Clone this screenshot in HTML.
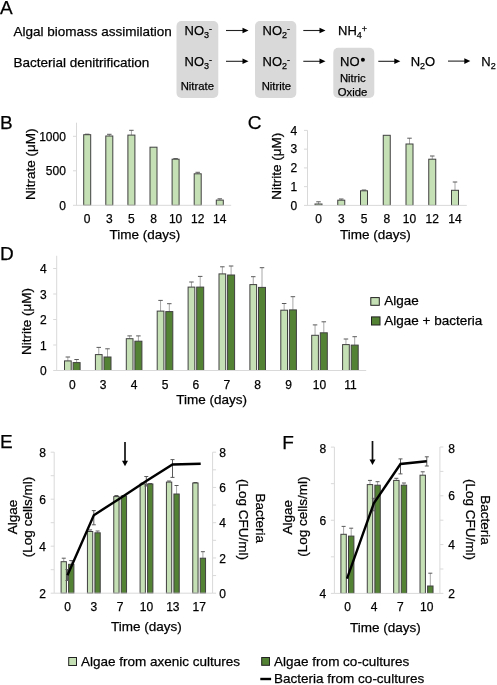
<!DOCTYPE html>
<html><head><meta charset="utf-8"><style>
html,body{margin:0;padding:0;background:#fff;}
body{width:497px;height:685px;overflow:hidden;}
svg{display:block;position:absolute;left:0;top:0;font-family:"Liberation Sans", sans-serif;fill:#000;}
#t{filter:grayscale(1);}
#t text{stroke:#000;stroke-width:0.25px;}
</style></head><body>
<svg width="497" height="685" viewBox="0 0 497 685">
<rect width="497" height="685" fill="#fff"/>
<rect x="176.5" y="21" width="41.8" height="77" fill="#D9D9D9" rx="5"/>
<rect x="255" y="21" width="41.3" height="77" fill="#D9D9D9" rx="5"/>
<rect x="333.3" y="47.8" width="41" height="50.2" fill="#D9D9D9" rx="5"/>
<circle cx="362.9" cy="59.8" r="2" fill="#000"/>
<line x1="226" y1="30.5" x2="243.5" y2="30.5" stroke="#222" stroke-width="1.1" />
<path d="M248.5 30.5 L242.5 27.7 L242.5 33.3 Z" fill="#000"/>
<line x1="226" y1="61.3" x2="243.5" y2="61.3" stroke="#222" stroke-width="1.1" />
<path d="M248.5 61.3 L242.5 58.5 L242.5 64.1 Z" fill="#000"/>
<line x1="303.3" y1="30.5" x2="320.5" y2="30.5" stroke="#222" stroke-width="1.1" />
<path d="M325.5 30.5 L319.5 27.7 L319.5 33.3 Z" fill="#000"/>
<line x1="303.3" y1="61.3" x2="320.5" y2="61.3" stroke="#222" stroke-width="1.1" />
<path d="M325.5 61.3 L319.5 58.5 L319.5 64.1 Z" fill="#000"/>
<line x1="378.3" y1="61.3" x2="395.3" y2="61.3" stroke="#222" stroke-width="1.1" />
<path d="M400.3 61.3 L394.3 58.5 L394.3 64.1 Z" fill="#000"/>
<line x1="448" y1="61.1" x2="465.3" y2="61.1" stroke="#222" stroke-width="1.1" />
<path d="M470.3 61.1 L464.3 58.300000000000004 L464.3 63.9 Z" fill="#000"/>
<line x1="76.5" y1="122.7" x2="76.5" y2="205.3" stroke="#D9D9D9" stroke-width="1" />
<line x1="73.0" y1="170.8" x2="76.5" y2="170.8" stroke="#D9D9D9" stroke-width="1" />
<line x1="73.0" y1="136.3" x2="76.5" y2="136.3" stroke="#D9D9D9" stroke-width="1" />
<line x1="87.2" y1="134.7" x2="87.2" y2="134.2" stroke="#A8A8A8" stroke-width="1" />
<line x1="84.95" y1="134.2" x2="89.45" y2="134.2" stroke="#5A5A5A" stroke-width="1" />
<rect x="83.7" y="134.7" width="7" height="70.60000000000002" fill="#C5E0B4" stroke="#404040" stroke-width="1"/>
<line x1="109.30000000000001" y1="136.0" x2="109.30000000000001" y2="134.3" stroke="#A8A8A8" stroke-width="1" />
<line x1="107.05000000000001" y1="134.3" x2="111.55000000000001" y2="134.3" stroke="#5A5A5A" stroke-width="1" />
<rect x="105.80000000000001" y="136.0" width="7" height="69.30000000000001" fill="#C5E0B4" stroke="#404040" stroke-width="1"/>
<line x1="131.4" y1="135.1" x2="131.4" y2="130.3" stroke="#A8A8A8" stroke-width="1" />
<line x1="129.15" y1="130.3" x2="133.65" y2="130.3" stroke="#5A5A5A" stroke-width="1" />
<rect x="127.9" y="135.1" width="7" height="70.20000000000002" fill="#C5E0B4" stroke="#404040" stroke-width="1"/>
<rect x="150.0" y="147.2" width="7" height="58.10000000000002" fill="#C5E0B4" stroke="#404040" stroke-width="1"/>
<line x1="175.60000000000002" y1="159.2" x2="175.60000000000002" y2="158.6" stroke="#A8A8A8" stroke-width="1" />
<line x1="173.35000000000002" y1="158.6" x2="177.85000000000002" y2="158.6" stroke="#5A5A5A" stroke-width="1" />
<rect x="172.10000000000002" y="159.2" width="7" height="46.10000000000002" fill="#C5E0B4" stroke="#404040" stroke-width="1"/>
<line x1="197.7" y1="173.8" x2="197.7" y2="172.3" stroke="#A8A8A8" stroke-width="1" />
<line x1="195.45" y1="172.3" x2="199.95" y2="172.3" stroke="#5A5A5A" stroke-width="1" />
<rect x="194.2" y="173.8" width="7" height="31.5" fill="#C5E0B4" stroke="#404040" stroke-width="1"/>
<line x1="219.8" y1="200.1" x2="219.8" y2="198.8" stroke="#A8A8A8" stroke-width="1" />
<line x1="217.55" y1="198.8" x2="222.05" y2="198.8" stroke="#5A5A5A" stroke-width="1" />
<rect x="216.3" y="200.1" width="7" height="5.200000000000017" fill="#C5E0B4" stroke="#404040" stroke-width="1"/>
<line x1="307.5" y1="130.4" x2="307.5" y2="205.4" stroke="#D9D9D9" stroke-width="1" />
<line x1="304.0" y1="186.65" x2="307.5" y2="186.65" stroke="#D9D9D9" stroke-width="1" />
<line x1="304.0" y1="167.9" x2="307.5" y2="167.9" stroke="#D9D9D9" stroke-width="1" />
<line x1="304.0" y1="149.15" x2="307.5" y2="149.15" stroke="#D9D9D9" stroke-width="1" />
<line x1="304.0" y1="130.4" x2="307.5" y2="130.4" stroke="#D9D9D9" stroke-width="1" />
<line x1="318.5" y1="204.0" x2="318.5" y2="201.8" stroke="#A8A8A8" stroke-width="1" />
<line x1="316.25" y1="201.8" x2="320.75" y2="201.8" stroke="#5A5A5A" stroke-width="1" />
<rect x="315.0" y="204.0" width="7" height="1.4000000000000057" fill="#C5E0B4" stroke="#404040" stroke-width="1"/>
<line x1="341.25" y1="200.2" x2="341.25" y2="199.0" stroke="#A8A8A8" stroke-width="1" />
<line x1="339.0" y1="199.0" x2="343.5" y2="199.0" stroke="#5A5A5A" stroke-width="1" />
<rect x="337.75" y="200.2" width="7" height="5.200000000000017" fill="#C5E0B4" stroke="#404040" stroke-width="1"/>
<line x1="364.0" y1="190.8" x2="364.0" y2="190.0" stroke="#A8A8A8" stroke-width="1" />
<line x1="361.75" y1="190.0" x2="366.25" y2="190.0" stroke="#5A5A5A" stroke-width="1" />
<rect x="360.5" y="190.8" width="7" height="14.599999999999994" fill="#C5E0B4" stroke="#404040" stroke-width="1"/>
<rect x="383.25" y="135.3" width="7" height="70.1" fill="#C5E0B4" stroke="#404040" stroke-width="1"/>
<line x1="409.5" y1="144.0" x2="409.5" y2="138.2" stroke="#A8A8A8" stroke-width="1" />
<line x1="407.25" y1="138.2" x2="411.75" y2="138.2" stroke="#5A5A5A" stroke-width="1" />
<rect x="406.0" y="144.0" width="7" height="61.400000000000006" fill="#C5E0B4" stroke="#404040" stroke-width="1"/>
<line x1="432.25" y1="159.2" x2="432.25" y2="156.0" stroke="#A8A8A8" stroke-width="1" />
<line x1="430.0" y1="156.0" x2="434.5" y2="156.0" stroke="#5A5A5A" stroke-width="1" />
<rect x="428.75" y="159.2" width="7" height="46.20000000000002" fill="#C5E0B4" stroke="#404040" stroke-width="1"/>
<line x1="455.0" y1="190.3" x2="455.0" y2="182.0" stroke="#A8A8A8" stroke-width="1" />
<line x1="452.75" y1="182.0" x2="457.25" y2="182.0" stroke="#5A5A5A" stroke-width="1" />
<rect x="451.5" y="190.3" width="7" height="15.099999999999994" fill="#C5E0B4" stroke="#404040" stroke-width="1"/>
<line x1="56.7" y1="255.75" x2="56.7" y2="370.5" stroke="#D9D9D9" stroke-width="1" />
<line x1="53.2" y1="345.0" x2="56.7" y2="345.0" stroke="#D9D9D9" stroke-width="1" />
<line x1="53.2" y1="319.5" x2="56.7" y2="319.5" stroke="#D9D9D9" stroke-width="1" />
<line x1="53.2" y1="294.0" x2="56.7" y2="294.0" stroke="#D9D9D9" stroke-width="1" />
<line x1="53.2" y1="268.5" x2="56.7" y2="268.5" stroke="#D9D9D9" stroke-width="1" />
<line x1="67.85" y1="360.9" x2="67.85" y2="357.0" stroke="#A8A8A8" stroke-width="1" />
<line x1="65.6" y1="357.0" x2="70.1" y2="357.0" stroke="#5A5A5A" stroke-width="1" />
<rect x="64.5" y="360.9" width="6.7" height="9.600000000000023" fill="#C5E0B4" stroke="#404040" stroke-width="1"/>
<line x1="76.6" y1="362.6" x2="76.6" y2="359.5" stroke="#A8A8A8" stroke-width="1" />
<line x1="74.35" y1="359.5" x2="78.85" y2="359.5" stroke="#5A5A5A" stroke-width="1" />
<rect x="73.1" y="362.6" width="7.0" height="7.899999999999977" fill="#548235" stroke="#404040" stroke-width="1"/>
<line x1="98.75" y1="354.6" x2="98.75" y2="347.4" stroke="#A8A8A8" stroke-width="1" />
<line x1="96.5" y1="347.4" x2="101.0" y2="347.4" stroke="#5A5A5A" stroke-width="1" />
<rect x="95.4" y="354.6" width="6.7" height="15.899999999999977" fill="#C5E0B4" stroke="#404040" stroke-width="1"/>
<line x1="107.5" y1="357.0" x2="107.5" y2="348.8" stroke="#A8A8A8" stroke-width="1" />
<line x1="105.25" y1="348.8" x2="109.75" y2="348.8" stroke="#5A5A5A" stroke-width="1" />
<rect x="104.0" y="357.0" width="7.0" height="13.5" fill="#548235" stroke="#404040" stroke-width="1"/>
<line x1="129.65" y1="338.7" x2="129.65" y2="335.9" stroke="#A8A8A8" stroke-width="1" />
<line x1="127.4" y1="335.9" x2="131.9" y2="335.9" stroke="#5A5A5A" stroke-width="1" />
<rect x="126.3" y="338.7" width="6.7" height="31.80000000000001" fill="#C5E0B4" stroke="#404040" stroke-width="1"/>
<line x1="138.4" y1="341.2" x2="138.4" y2="335.9" stroke="#A8A8A8" stroke-width="1" />
<line x1="136.15" y1="335.9" x2="140.65" y2="335.9" stroke="#5A5A5A" stroke-width="1" />
<rect x="134.9" y="341.2" width="7.0" height="29.30000000000001" fill="#548235" stroke="#404040" stroke-width="1"/>
<line x1="160.54999999999998" y1="311.1" x2="160.54999999999998" y2="300.4" stroke="#A8A8A8" stroke-width="1" />
<line x1="158.29999999999998" y1="300.4" x2="162.79999999999998" y2="300.4" stroke="#5A5A5A" stroke-width="1" />
<rect x="157.2" y="311.1" width="6.7" height="59.39999999999998" fill="#C5E0B4" stroke="#404040" stroke-width="1"/>
<line x1="169.29999999999998" y1="311.6" x2="169.29999999999998" y2="303.7" stroke="#A8A8A8" stroke-width="1" />
<line x1="167.04999999999998" y1="303.7" x2="171.54999999999998" y2="303.7" stroke="#5A5A5A" stroke-width="1" />
<rect x="165.79999999999998" y="311.6" width="7.0" height="58.89999999999998" fill="#548235" stroke="#404040" stroke-width="1"/>
<line x1="191.45" y1="287.1" x2="191.45" y2="282.0" stroke="#A8A8A8" stroke-width="1" />
<line x1="189.2" y1="282.0" x2="193.7" y2="282.0" stroke="#5A5A5A" stroke-width="1" />
<rect x="188.1" y="287.1" width="6.7" height="83.39999999999998" fill="#C5E0B4" stroke="#404040" stroke-width="1"/>
<line x1="200.2" y1="287.1" x2="200.2" y2="276.4" stroke="#A8A8A8" stroke-width="1" />
<line x1="197.95" y1="276.4" x2="202.45" y2="276.4" stroke="#5A5A5A" stroke-width="1" />
<rect x="196.7" y="287.1" width="7.0" height="83.39999999999998" fill="#548235" stroke="#404040" stroke-width="1"/>
<line x1="222.35" y1="273.9" x2="222.35" y2="266.8" stroke="#A8A8A8" stroke-width="1" />
<line x1="220.1" y1="266.8" x2="224.6" y2="266.8" stroke="#5A5A5A" stroke-width="1" />
<rect x="219.0" y="273.9" width="6.7" height="96.60000000000002" fill="#C5E0B4" stroke="#404040" stroke-width="1"/>
<line x1="231.1" y1="275.0" x2="231.1" y2="266.0" stroke="#A8A8A8" stroke-width="1" />
<line x1="228.85" y1="266.0" x2="233.35" y2="266.0" stroke="#5A5A5A" stroke-width="1" />
<rect x="227.6" y="275.0" width="7.0" height="95.5" fill="#548235" stroke="#404040" stroke-width="1"/>
<line x1="253.24999999999997" y1="284.6" x2="253.24999999999997" y2="276.7" stroke="#A8A8A8" stroke-width="1" />
<line x1="250.99999999999997" y1="276.7" x2="255.49999999999997" y2="276.7" stroke="#5A5A5A" stroke-width="1" />
<rect x="249.89999999999998" y="284.6" width="6.7" height="85.89999999999998" fill="#C5E0B4" stroke="#404040" stroke-width="1"/>
<line x1="262.0" y1="287.4" x2="262.0" y2="267.7" stroke="#A8A8A8" stroke-width="1" />
<line x1="259.75" y1="267.7" x2="264.25" y2="267.7" stroke="#5A5A5A" stroke-width="1" />
<rect x="258.5" y="287.4" width="7.0" height="83.10000000000002" fill="#548235" stroke="#404040" stroke-width="1"/>
<line x1="284.15" y1="310.2" x2="284.15" y2="303.5" stroke="#A8A8A8" stroke-width="1" />
<line x1="281.9" y1="303.5" x2="286.4" y2="303.5" stroke="#5A5A5A" stroke-width="1" />
<rect x="280.79999999999995" y="310.2" width="6.7" height="60.30000000000001" fill="#C5E0B4" stroke="#404040" stroke-width="1"/>
<line x1="292.9" y1="309.9" x2="292.9" y2="296.7" stroke="#A8A8A8" stroke-width="1" />
<line x1="290.65" y1="296.7" x2="295.15" y2="296.7" stroke="#5A5A5A" stroke-width="1" />
<rect x="289.4" y="309.9" width="7.0" height="60.60000000000002" fill="#548235" stroke="#404040" stroke-width="1"/>
<line x1="315.05" y1="335.3" x2="315.05" y2="324.9" stroke="#A8A8A8" stroke-width="1" />
<line x1="312.8" y1="324.9" x2="317.3" y2="324.9" stroke="#5A5A5A" stroke-width="1" />
<rect x="311.7" y="335.3" width="6.7" height="35.19999999999999" fill="#C5E0B4" stroke="#404040" stroke-width="1"/>
<line x1="323.8" y1="332.8" x2="323.8" y2="321.8" stroke="#A8A8A8" stroke-width="1" />
<line x1="321.55" y1="321.8" x2="326.05" y2="321.8" stroke="#5A5A5A" stroke-width="1" />
<rect x="320.3" y="332.8" width="7.0" height="37.69999999999999" fill="#548235" stroke="#404040" stroke-width="1"/>
<line x1="345.95" y1="344.6" x2="345.95" y2="339.0" stroke="#A8A8A8" stroke-width="1" />
<line x1="343.7" y1="339.0" x2="348.2" y2="339.0" stroke="#5A5A5A" stroke-width="1" />
<rect x="342.59999999999997" y="344.6" width="6.7" height="25.899999999999977" fill="#C5E0B4" stroke="#404040" stroke-width="1"/>
<line x1="354.7" y1="345.1" x2="354.7" y2="336.7" stroke="#A8A8A8" stroke-width="1" />
<line x1="352.45" y1="336.7" x2="356.95" y2="336.7" stroke="#5A5A5A" stroke-width="1" />
<rect x="351.2" y="345.1" width="7.0" height="25.399999999999977" fill="#548235" stroke="#404040" stroke-width="1"/>
<rect x="370.8" y="297.6" width="8.5" height="7.7" fill="#C5E0B4" stroke="#222" stroke-width="1"/>
<rect x="371.5" y="316.9" width="8.5" height="8.1" fill="#548235" stroke="#222" stroke-width="1"/>
<line x1="54.2" y1="452.2" x2="54.2" y2="593.2" stroke="#D9D9D9" stroke-width="1" />
<line x1="212.6" y1="452.2" x2="212.6" y2="593.2" stroke="#D9D9D9" stroke-width="1" />
<line x1="50.7" y1="593.2" x2="54.2" y2="593.2" stroke="#D9D9D9" stroke-width="1" />
<line x1="50.7" y1="569.7" x2="54.2" y2="569.7" stroke="#D9D9D9" stroke-width="1" />
<line x1="50.7" y1="546.2" x2="54.2" y2="546.2" stroke="#D9D9D9" stroke-width="1" />
<line x1="50.7" y1="522.7" x2="54.2" y2="522.7" stroke="#D9D9D9" stroke-width="1" />
<line x1="50.7" y1="499.2" x2="54.2" y2="499.2" stroke="#D9D9D9" stroke-width="1" />
<line x1="50.7" y1="475.7" x2="54.2" y2="475.7" stroke="#D9D9D9" stroke-width="1" />
<line x1="50.7" y1="452.2" x2="54.2" y2="452.2" stroke="#D9D9D9" stroke-width="1" />
<line x1="212.6" y1="593.2" x2="216.1" y2="593.2" stroke="#D9D9D9" stroke-width="1" />
<line x1="212.6" y1="575.575" x2="216.1" y2="575.575" stroke="#D9D9D9" stroke-width="1" />
<line x1="212.6" y1="557.95" x2="216.1" y2="557.95" stroke="#D9D9D9" stroke-width="1" />
<line x1="212.6" y1="540.325" x2="216.1" y2="540.325" stroke="#D9D9D9" stroke-width="1" />
<line x1="212.6" y1="522.7" x2="216.1" y2="522.7" stroke="#D9D9D9" stroke-width="1" />
<line x1="212.6" y1="505.07500000000005" x2="216.1" y2="505.07500000000005" stroke="#D9D9D9" stroke-width="1" />
<line x1="212.6" y1="487.45" x2="216.1" y2="487.45" stroke="#D9D9D9" stroke-width="1" />
<line x1="212.6" y1="469.825" x2="216.1" y2="469.825" stroke="#D9D9D9" stroke-width="1" />
<line x1="212.6" y1="452.2" x2="216.1" y2="452.2" stroke="#D9D9D9" stroke-width="1" />
<line x1="63.75" y1="561.7" x2="63.75" y2="558.2" stroke="#A8A8A8" stroke-width="1" />
<line x1="61.75" y1="558.2" x2="65.75" y2="558.2" stroke="#5A5A5A" stroke-width="1" />
<rect x="61.1" y="561.7" width="5.3" height="31.5" fill="#C5E0B4" stroke="#404040" stroke-width="1"/>
<line x1="71.25" y1="564.3" x2="71.25" y2="560.6" stroke="#A8A8A8" stroke-width="1" />
<line x1="69.25" y1="560.6" x2="73.25" y2="560.6" stroke="#5A5A5A" stroke-width="1" />
<rect x="68.6" y="564.3" width="5.3" height="28.90000000000009" fill="#548235" stroke="#404040" stroke-width="1"/>
<line x1="90.08000000000001" y1="531.5" x2="90.08000000000001" y2="529.9" stroke="#A8A8A8" stroke-width="1" />
<line x1="88.08000000000001" y1="529.9" x2="92.08000000000001" y2="529.9" stroke="#5A5A5A" stroke-width="1" />
<rect x="87.43" y="531.5" width="5.3" height="61.700000000000045" fill="#C5E0B4" stroke="#404040" stroke-width="1"/>
<line x1="97.58000000000001" y1="532.8" x2="97.58000000000001" y2="531.0" stroke="#A8A8A8" stroke-width="1" />
<line x1="95.58000000000001" y1="531.0" x2="99.58000000000001" y2="531.0" stroke="#5A5A5A" stroke-width="1" />
<rect x="94.93" y="532.8" width="5.3" height="60.40000000000009" fill="#548235" stroke="#404040" stroke-width="1"/>
<line x1="116.41" y1="496.6" x2="116.41" y2="495.5" stroke="#A8A8A8" stroke-width="1" />
<line x1="114.41" y1="495.5" x2="118.41" y2="495.5" stroke="#5A5A5A" stroke-width="1" />
<rect x="113.75999999999999" y="496.6" width="5.3" height="96.60000000000002" fill="#C5E0B4" stroke="#404040" stroke-width="1"/>
<line x1="123.91" y1="496.0" x2="123.91" y2="495.5" stroke="#A8A8A8" stroke-width="1" />
<line x1="121.91" y1="495.5" x2="125.91" y2="495.5" stroke="#5A5A5A" stroke-width="1" />
<rect x="121.25999999999999" y="496.0" width="5.3" height="97.20000000000005" fill="#548235" stroke="#404040" stroke-width="1"/>
<line x1="142.74" y1="484.0" x2="142.74" y2="483.0" stroke="#A8A8A8" stroke-width="1" />
<line x1="140.74" y1="483.0" x2="144.74" y2="483.0" stroke="#5A5A5A" stroke-width="1" />
<rect x="140.09" y="484.0" width="5.3" height="109.20000000000005" fill="#C5E0B4" stroke="#404040" stroke-width="1"/>
<line x1="150.24" y1="484.0" x2="150.24" y2="483.5" stroke="#A8A8A8" stroke-width="1" />
<line x1="148.24" y1="483.5" x2="152.24" y2="483.5" stroke="#5A5A5A" stroke-width="1" />
<rect x="147.59" y="484.0" width="5.3" height="109.20000000000005" fill="#548235" stroke="#404040" stroke-width="1"/>
<line x1="169.07" y1="482.1" x2="169.07" y2="481.0" stroke="#A8A8A8" stroke-width="1" />
<line x1="167.07" y1="481.0" x2="171.07" y2="481.0" stroke="#5A5A5A" stroke-width="1" />
<rect x="166.42" y="482.1" width="5.3" height="111.10000000000002" fill="#C5E0B4" stroke="#404040" stroke-width="1"/>
<line x1="176.57" y1="494.0" x2="176.57" y2="485.5" stroke="#A8A8A8" stroke-width="1" />
<line x1="174.57" y1="485.5" x2="178.57" y2="485.5" stroke="#5A5A5A" stroke-width="1" />
<rect x="173.92" y="494.0" width="5.3" height="99.20000000000005" fill="#548235" stroke="#404040" stroke-width="1"/>
<line x1="195.39999999999998" y1="483.0" x2="195.39999999999998" y2="482.5" stroke="#A8A8A8" stroke-width="1" />
<line x1="193.39999999999998" y1="482.5" x2="197.39999999999998" y2="482.5" stroke="#5A5A5A" stroke-width="1" />
<rect x="192.74999999999997" y="483.0" width="5.3" height="110.20000000000005" fill="#C5E0B4" stroke="#404040" stroke-width="1"/>
<line x1="202.89999999999998" y1="558.2" x2="202.89999999999998" y2="551.7" stroke="#A8A8A8" stroke-width="1" />
<line x1="200.89999999999998" y1="551.7" x2="204.89999999999998" y2="551.7" stroke="#5A5A5A" stroke-width="1" />
<rect x="200.24999999999997" y="558.2" width="5.3" height="35.0" fill="#548235" stroke="#404040" stroke-width="1"/>
<line x1="67.5" y1="569.5" x2="67.5" y2="580.5" stroke="#5A5A5A" stroke-width="1" />
<line x1="65.5" y1="569.5" x2="69.5" y2="569.5" stroke="#5A5A5A" stroke-width="1" />
<line x1="65.5" y1="580.5" x2="69.5" y2="580.5" stroke="#5A5A5A" stroke-width="1" />
<line x1="93.8" y1="510.6" x2="93.8" y2="524.8" stroke="#5A5A5A" stroke-width="1" />
<line x1="91.8" y1="510.6" x2="95.8" y2="510.6" stroke="#5A5A5A" stroke-width="1" />
<line x1="91.8" y1="524.8" x2="95.8" y2="524.8" stroke="#5A5A5A" stroke-width="1" />
<line x1="146.3" y1="476.5" x2="146.3" y2="486" stroke="#5A5A5A" stroke-width="1" />
<line x1="144.3" y1="476.5" x2="148.3" y2="476.5" stroke="#5A5A5A" stroke-width="1" />
<line x1="144.3" y1="486" x2="148.3" y2="486" stroke="#5A5A5A" stroke-width="1" />
<line x1="172.5" y1="459.6" x2="172.5" y2="477.4" stroke="#5A5A5A" stroke-width="1" />
<line x1="170.5" y1="459.6" x2="174.5" y2="459.6" stroke="#5A5A5A" stroke-width="1" />
<line x1="170.5" y1="477.4" x2="174.5" y2="477.4" stroke="#5A5A5A" stroke-width="1" />
<polyline points="67.5,575.2 93.8,515.2 120.2,498.2 146.3,481.0 172.5,464.5 200.7,463.7" fill="none" stroke="#000" stroke-width="2.4" stroke-linejoin="miter"/>
<line x1="125" y1="442" x2="125" y2="461.3" stroke="#111" stroke-width="1.7" />
<path d="M125 466.3 L122 460.7 L128 460.7 Z" fill="#000"/>
<line x1="334.4" y1="447.1" x2="334.4" y2="593.4" stroke="#D9D9D9" stroke-width="1" />
<line x1="439.9" y1="447.0" x2="439.9" y2="593.4" stroke="#D9D9D9" stroke-width="1" />
<line x1="330.9" y1="593.4" x2="334.4" y2="593.4" stroke="#D9D9D9" stroke-width="1" />
<line x1="330.9" y1="556.825" x2="334.4" y2="556.825" stroke="#D9D9D9" stroke-width="1" />
<line x1="330.9" y1="520.25" x2="334.4" y2="520.25" stroke="#D9D9D9" stroke-width="1" />
<line x1="330.9" y1="483.675" x2="334.4" y2="483.675" stroke="#D9D9D9" stroke-width="1" />
<line x1="330.9" y1="447.1" x2="334.4" y2="447.1" stroke="#D9D9D9" stroke-width="1" />
<line x1="439.9" y1="593.4" x2="443.4" y2="593.4" stroke="#D9D9D9" stroke-width="1" />
<line x1="439.9" y1="569.0" x2="443.4" y2="569.0" stroke="#D9D9D9" stroke-width="1" />
<line x1="439.9" y1="544.6" x2="443.4" y2="544.6" stroke="#D9D9D9" stroke-width="1" />
<line x1="439.9" y1="520.2" x2="443.4" y2="520.2" stroke="#D9D9D9" stroke-width="1" />
<line x1="439.9" y1="495.8" x2="443.4" y2="495.8" stroke="#D9D9D9" stroke-width="1" />
<line x1="439.9" y1="471.4" x2="443.4" y2="471.4" stroke="#D9D9D9" stroke-width="1" />
<line x1="439.9" y1="447.0" x2="443.4" y2="447.0" stroke="#D9D9D9" stroke-width="1" />
<line x1="343.59999999999997" y1="534.3" x2="343.59999999999997" y2="526.4" stroke="#A8A8A8" stroke-width="1" />
<line x1="341.59999999999997" y1="526.4" x2="345.59999999999997" y2="526.4" stroke="#5A5A5A" stroke-width="1" />
<rect x="340.9" y="534.3" width="5.4" height="59.10000000000002" fill="#C5E0B4" stroke="#404040" stroke-width="1"/>
<line x1="351.2" y1="536.1" x2="351.2" y2="528.2" stroke="#A8A8A8" stroke-width="1" />
<line x1="349.2" y1="528.2" x2="353.2" y2="528.2" stroke="#5A5A5A" stroke-width="1" />
<rect x="348.5" y="536.1" width="5.4" height="57.299999999999955" fill="#548235" stroke="#404040" stroke-width="1"/>
<line x1="369.97499999999997" y1="484.6" x2="369.97499999999997" y2="480.4" stroke="#A8A8A8" stroke-width="1" />
<line x1="367.97499999999997" y1="480.4" x2="371.97499999999997" y2="480.4" stroke="#5A5A5A" stroke-width="1" />
<rect x="367.275" y="484.6" width="5.4" height="108.79999999999995" fill="#C5E0B4" stroke="#404040" stroke-width="1"/>
<line x1="377.575" y1="485.2" x2="377.575" y2="481.7" stroke="#A8A8A8" stroke-width="1" />
<line x1="375.575" y1="481.7" x2="379.575" y2="481.7" stroke="#5A5A5A" stroke-width="1" />
<rect x="374.875" y="485.2" width="5.4" height="108.19999999999999" fill="#548235" stroke="#404040" stroke-width="1"/>
<line x1="396.34999999999997" y1="480.4" x2="396.34999999999997" y2="478.3" stroke="#A8A8A8" stroke-width="1" />
<line x1="394.34999999999997" y1="478.3" x2="398.34999999999997" y2="478.3" stroke="#5A5A5A" stroke-width="1" />
<rect x="393.65" y="480.4" width="5.4" height="113.0" fill="#C5E0B4" stroke="#404040" stroke-width="1"/>
<line x1="403.95" y1="485.2" x2="403.95" y2="483.0" stroke="#A8A8A8" stroke-width="1" />
<line x1="401.95" y1="483.0" x2="405.95" y2="483.0" stroke="#5A5A5A" stroke-width="1" />
<rect x="401.25" y="485.2" width="5.4" height="108.19999999999999" fill="#548235" stroke="#404040" stroke-width="1"/>
<line x1="422.72499999999997" y1="475.2" x2="422.72499999999997" y2="471.8" stroke="#A8A8A8" stroke-width="1" />
<line x1="420.72499999999997" y1="471.8" x2="424.72499999999997" y2="471.8" stroke="#5A5A5A" stroke-width="1" />
<rect x="420.025" y="475.2" width="5.4" height="118.19999999999999" fill="#C5E0B4" stroke="#404040" stroke-width="1"/>
<line x1="430.325" y1="586.0" x2="430.325" y2="573.2" stroke="#A8A8A8" stroke-width="1" />
<line x1="428.325" y1="573.2" x2="432.325" y2="573.2" stroke="#5A5A5A" stroke-width="1" />
<rect x="427.625" y="586.0" width="5.4" height="7.399999999999977" fill="#548235" stroke="#404040" stroke-width="1"/>
<line x1="373.8" y1="498.3" x2="373.8" y2="510.8" stroke="#5A5A5A" stroke-width="1" />
<line x1="371.8" y1="498.3" x2="375.8" y2="498.3" stroke="#5A5A5A" stroke-width="1" />
<line x1="371.8" y1="510.8" x2="375.8" y2="510.8" stroke="#5A5A5A" stroke-width="1" />
<line x1="400.5" y1="458.9" x2="400.5" y2="473.9" stroke="#5A5A5A" stroke-width="1" />
<line x1="398.5" y1="458.9" x2="402.5" y2="458.9" stroke="#5A5A5A" stroke-width="1" />
<line x1="398.5" y1="473.9" x2="402.5" y2="473.9" stroke="#5A5A5A" stroke-width="1" />
<line x1="426.8" y1="456.8" x2="426.8" y2="466" stroke="#5A5A5A" stroke-width="1" />
<line x1="424.8" y1="456.8" x2="428.8" y2="456.8" stroke="#5A5A5A" stroke-width="1" />
<line x1="424.8" y1="466" x2="428.8" y2="466" stroke="#5A5A5A" stroke-width="1" />
<polyline points="347,578.6 373.8,503.4 400.5,464.0 426.8,461.3" fill="none" stroke="#000" stroke-width="2.4"/>
<line x1="372.5" y1="441" x2="372.5" y2="460" stroke="#111" stroke-width="1.7" />
<path d="M372.5 465 L369.5 459.4 L375.5 459.4 Z" fill="#000"/>
<rect x="68.7" y="657.5" width="7.8" height="8" fill="#C5E0B4" stroke="#222" stroke-width="1"/>
<rect x="261.7" y="657.5" width="7.8" height="7.8" fill="#548235" stroke="#222" stroke-width="1"/>
<line x1="260.3" y1="679" x2="271.1" y2="679" stroke="#000" stroke-width="2.4" />
<line x1="73.0" y1="205.3" x2="231.20000000000002" y2="205.3" stroke="#D9D9D9" stroke-width="1"/>
<line x1="304.0" y1="205.4" x2="466.75" y2="205.4" stroke="#D9D9D9" stroke-width="1"/>
<line x1="53.2" y1="370.5" x2="366.2" y2="370.5" stroke="#D9D9D9" stroke-width="1"/>
<line x1="54.2" y1="593.2" x2="212.6" y2="593.2" stroke="#D9D9D9" stroke-width="1"/>
<line x1="334.4" y1="593.4" x2="439.9" y2="593.4" stroke="#D9D9D9" stroke-width="1"/>
</svg>
<svg id="t" width="497" height="685" viewBox="0 0 497 685">
<text x="0" y="14.1" font-size="19" text-anchor="start" >A</text>
<text x="13.4" y="35.7" font-size="13.5" text-anchor="start" >Algal biomass assimilation</text>
<text x="13.4" y="66.9" font-size="13.5" text-anchor="start" >Bacterial denitrification</text>
<text x="184.5" y="35.2" font-size="13"><tspan>NO</tspan><tspan font-size="9" dy="3.1">3</tspan><tspan font-size="9" dy="-6.4">-</tspan></text>
<text x="184.5" y="65.9" font-size="13"><tspan>NO</tspan><tspan font-size="9" dy="3.1">3</tspan><tspan font-size="9" dy="-6.4">-</tspan></text>
<text x="262.5" y="35.2" font-size="13"><tspan>NO</tspan><tspan font-size="9" dy="3.1">2</tspan><tspan font-size="9" dy="-6.4">-</tspan></text>
<text x="262.5" y="65.9" font-size="13"><tspan>NO</tspan><tspan font-size="9" dy="3.1">2</tspan><tspan font-size="9" dy="-6.4">-</tspan></text>
<text x="338" y="35.2" font-size="13"><tspan>NH</tspan><tspan font-size="9" dy="3.1">4</tspan><tspan font-size="9" dy="-6.4">+</tspan></text>
<text x="340" y="65.7" font-size="13">NO</text>
<text x="410.7" y="65.9" font-size="13"><tspan>N</tspan><tspan font-size="9" dy="3.1">2</tspan><tspan dy="-3.1">O</tspan></text>
<text x="481.3" y="65.9" font-size="13"><tspan>N</tspan><tspan font-size="9" dy="3.1">2</tspan></text>
<text x="197.3" y="89.5" font-size="11.3" text-anchor="middle" >Nitrate</text>
<text x="276.4" y="89.5" font-size="11.3" text-anchor="middle" >Nitrite</text>
<text x="352.8" y="82.4" font-size="11.3" text-anchor="middle" >Nitric</text>
<text x="352.5" y="96" font-size="11.3" text-anchor="middle" >Oxide</text>
<text x="0" y="129.0" font-size="19" text-anchor="start" >B</text>
<text x="65.9" y="209.60000000000002" font-size="12" text-anchor="end" >0</text>
<text x="65.9" y="175.10000000000002" font-size="12" text-anchor="end" >500</text>
<text x="65.9" y="140.60000000000002" font-size="12" text-anchor="end" >1000</text>
<text x="87.2" y="223.3" font-size="12" text-anchor="middle" >0</text>
<text x="109.30000000000001" y="223.3" font-size="12" text-anchor="middle" >3</text>
<text x="131.4" y="223.3" font-size="12" text-anchor="middle" >5</text>
<text x="153.5" y="223.3" font-size="12" text-anchor="middle" >8</text>
<text x="175.60000000000002" y="223.3" font-size="12" text-anchor="middle" >10</text>
<text x="197.7" y="223.3" font-size="12" text-anchor="middle" >12</text>
<text x="219.8" y="223.3" font-size="12" text-anchor="middle" >14</text>
<text x="144.8" y="238.8" font-size="13.5" text-anchor="middle" >Time (days)</text>
<text transform="translate(34.6,164.3) rotate(-90)" font-size="13.5" text-anchor="middle">Nitrate (μM)</text>
<text x="247.8" y="129.0" font-size="19" text-anchor="start" >C</text>
<text x="297.3" y="209.70000000000002" font-size="12" text-anchor="end" >0</text>
<text x="297.3" y="190.95000000000002" font-size="12" text-anchor="end" >1</text>
<text x="297.3" y="172.20000000000002" font-size="12" text-anchor="end" >2</text>
<text x="297.3" y="153.45000000000002" font-size="12" text-anchor="end" >3</text>
<text x="297.3" y="134.70000000000002" font-size="12" text-anchor="end" >4</text>
<text x="318.5" y="223.3" font-size="12" text-anchor="middle" >0</text>
<text x="341.25" y="223.3" font-size="12" text-anchor="middle" >3</text>
<text x="364.0" y="223.3" font-size="12" text-anchor="middle" >5</text>
<text x="386.75" y="223.3" font-size="12" text-anchor="middle" >8</text>
<text x="409.5" y="223.3" font-size="12" text-anchor="middle" >10</text>
<text x="432.25" y="223.3" font-size="12" text-anchor="middle" >12</text>
<text x="455.0" y="223.3" font-size="12" text-anchor="middle" >14</text>
<text x="375.5" y="238.8" font-size="13.5" text-anchor="middle" >Time (days)</text>
<text transform="translate(281,166.3) rotate(-90)" font-size="13.5" text-anchor="middle">Nitrite (μM)</text>
<text x="0" y="259.6" font-size="19" text-anchor="start" >D</text>
<text x="46.7" y="375.1" font-size="12" text-anchor="end" >0</text>
<text x="46.7" y="349.6" font-size="12" text-anchor="end" >1</text>
<text x="46.7" y="324.1" font-size="12" text-anchor="end" >2</text>
<text x="46.7" y="298.6" font-size="12" text-anchor="end" >3</text>
<text x="46.7" y="273.1" font-size="12" text-anchor="end" >4</text>
<text x="72.3" y="388.6" font-size="12" text-anchor="middle" >0</text>
<text x="103.2" y="388.6" font-size="12" text-anchor="middle" >3</text>
<text x="134.1" y="388.6" font-size="12" text-anchor="middle" >4</text>
<text x="165.0" y="388.6" font-size="12" text-anchor="middle" >5</text>
<text x="195.9" y="388.6" font-size="12" text-anchor="middle" >6</text>
<text x="226.8" y="388.6" font-size="12" text-anchor="middle" >7</text>
<text x="257.7" y="388.6" font-size="12" text-anchor="middle" >8</text>
<text x="288.59999999999997" y="388.6" font-size="12" text-anchor="middle" >9</text>
<text x="319.5" y="388.6" font-size="12" text-anchor="middle" >10</text>
<text x="350.4" y="388.6" font-size="12" text-anchor="middle" >11</text>
<text x="211.6" y="403.6" font-size="13.5" text-anchor="middle" >Time (days)</text>
<text transform="translate(31,321.6) rotate(-90)" font-size="13.5" text-anchor="middle">Nitrite (μM)</text>
<text x="384.3" y="305.1" font-size="13.5" text-anchor="start" >Algae</text>
<text x="384.3" y="324.9" font-size="13.5" text-anchor="start" >Algae + bacteria</text>
<text x="0" y="448.4" font-size="19" text-anchor="start" >E</text>
<text x="46.0" y="597.5" font-size="12" text-anchor="end" >2</text>
<text x="46.0" y="550.5" font-size="12" text-anchor="end" >4</text>
<text x="46.0" y="503.5" font-size="12" text-anchor="end" >6</text>
<text x="46.0" y="456.5" font-size="12" text-anchor="end" >8</text>
<text x="219.2" y="597.8000000000001" font-size="12" text-anchor="start" >0</text>
<text x="219.2" y="562.5500000000001" font-size="12" text-anchor="start" >2</text>
<text x="219.2" y="527.3000000000001" font-size="12" text-anchor="start" >4</text>
<text x="219.2" y="492.05" font-size="12" text-anchor="start" >6</text>
<text x="219.2" y="456.8" font-size="12" text-anchor="start" >8</text>
<text x="67.5" y="611.1" font-size="12" text-anchor="middle" >0</text>
<text x="93.83000000000001" y="611.1" font-size="12" text-anchor="middle" >3</text>
<text x="120.16" y="611.1" font-size="12" text-anchor="middle" >7</text>
<text x="146.49" y="611.1" font-size="12" text-anchor="middle" >10</text>
<text x="172.82" y="611.1" font-size="12" text-anchor="middle" >13</text>
<text x="199.14999999999998" y="611.1" font-size="12" text-anchor="middle" >17</text>
<text x="146.5" y="630.8" font-size="13.5" text-anchor="middle" >Time (days)</text>
<text transform="translate(17.2,517) rotate(-90)" font-size="13.5" text-anchor="middle">Algae</text>
<text transform="translate(31.5,517) rotate(-90)" font-size="13.5" text-anchor="middle">(Log cells/ml)</text>
<text transform="translate(255.5,518.3) rotate(90)" font-size="13.5" text-anchor="middle">Bacteria</text>
<text transform="translate(239.3,519.6) rotate(90)" font-size="13.5" text-anchor="middle">(Log CFU/ml)</text>
<text x="282.3" y="449" font-size="19" text-anchor="start" >F</text>
<text x="326.3" y="598.3" font-size="12" text-anchor="end" >4</text>
<text x="326.3" y="525.15" font-size="12" text-anchor="end" >6</text>
<text x="326.3" y="453.1" font-size="12" text-anchor="end" >8</text>
<text x="448.2" y="597.9" font-size="12" text-anchor="start" >2</text>
<text x="448.2" y="549.1" font-size="12" text-anchor="start" >4</text>
<text x="448.2" y="500.3" font-size="12" text-anchor="start" >6</text>
<text x="448.2" y="453.0" font-size="12" text-anchor="start" >8</text>
<text x="347.59999999999997" y="611.4" font-size="12" text-anchor="middle" >0</text>
<text x="373.97499999999997" y="611.4" font-size="12" text-anchor="middle" >4</text>
<text x="400.34999999999997" y="611.4" font-size="12" text-anchor="middle" >7</text>
<text x="426.72499999999997" y="611.4" font-size="12" text-anchor="middle" >10</text>
<text x="385.3" y="631.6" font-size="13.5" text-anchor="middle" >Time (days)</text>
<text transform="translate(292,517.2) rotate(-90)" font-size="13.5" text-anchor="middle">Algae</text>
<text transform="translate(306.5,516.6) rotate(-90)" font-size="13.5" text-anchor="middle">(Log cells/ml)</text>
<text transform="translate(480.8,520.1) rotate(90)" font-size="13.5" text-anchor="middle">Bacteria</text>
<text transform="translate(465.8,519.4) rotate(90)" font-size="13.5" text-anchor="middle">(Log CFU/ml)</text>
<text x="80.9" y="665.8" font-size="13.5" text-anchor="start" >Algae from axenic cultures</text>
<text x="274.1" y="665.8" font-size="13.5" text-anchor="start" >Algae from co-cultures</text>
<text x="274.1" y="682.5" font-size="13.5" text-anchor="start" >Bacteria from co-cultures</text>
</svg>
</body></html>
